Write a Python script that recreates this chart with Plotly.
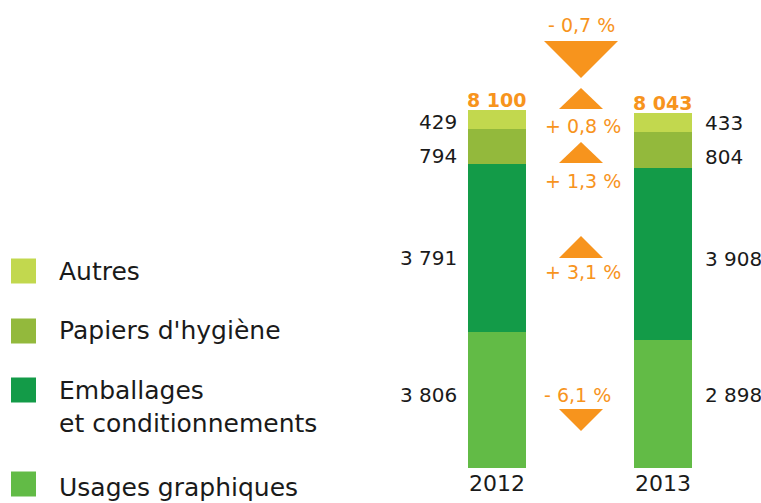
import plotly.graph_objects as go

# ---- data ----
years = ["2012", "2013"]
categories = ["Usages graphiques", "Emballages<br>et conditionnements", "Papiers d'hygiène", "Autres"]
# values in stacking order (bottom -> top)
usages = [3086, 2898]        # 2012 label in the source reads "3 806" (typo; total 8 100 and -6,1 % imply 3 086)
emballages = [3791, 3908]
papiers = [794, 804]
autres = [429, 433]
totals = [8100, 8043]
labels_2012 = ["3 806", "3 791", "794", "429"]
labels_2013 = ["2 898", "3 908", "804", "433"]
total_labels = ["8 100", "8 043"]
changes = ["- 6,1 %", "+ 3,1 %", "+ 1,3 %", "+ 0,8 %"]
total_change = "- 0,7 %"
colors = ["#62bb46", "#139b48", "#93b93c", "#c2d84e"]
ORANGE = "#f7941d"
FONT = "DejaVu Sans"
TXT = "#1a1a1a"

series = [usages, emballages, papiers, autres]

W, H = 761, 503
MB = 35
PH = H - MB
def px(x):
    return x / W
def py(y):
    return (PH - y) / PH

xpos = list(range(len(years)))
# small vertical nudges of the value labels (pixels), layout only
label_nudge = [[5, -10, -9, -2], [9, -5, -7, 0]]

fig = go.Figure()
for vals, name, col in zip(series, categories, colors):
    fig.add_trace(go.Bar(x=xpos, y=vals, name=name, marker=dict(color=col, line=dict(width=0)),
                         width=0.35, showlegend=False, hoverinfo="skip"))

ann = []
shapes = []
# segment value labels
for i in xpos:
    cum = 0
    labs = labels_2012 if i == 0 else labels_2013
    for k, vals in enumerate(series):
        mid = cum + vals[i] / 2
        cum += vals[i]
        if i == 0:
            ann.append(dict(x=i, y=mid, text=labs[k], xref="x", yref="y", showarrow=False,
                            xanchor="right", yanchor="middle", xshift=-38, yshift=label_nudge[i][k],
                            font=dict(size=20, color=TXT, family=FONT)))
        else:
            ann.append(dict(x=i, y=mid, text=labs[k], xref="x", yref="y", showarrow=False,
                            xanchor="left", yanchor="middle", xshift=40, yshift=label_nudge[i][k],
                            font=dict(size=20, color=TXT, family=FONT)))
    ann.append(dict(x=i, y=totals[i], text="<b>" + total_labels[i] + "</b>", xref="x", yref="y",
                    showarrow=False, xanchor="center", yanchor="bottom", yshift=-3,
                    font=dict(size=19, color=ORANGE, family=FONT)))

# change indicators (decorative)
def tri(x0, x1, ybase, yapex):
    xm = (x0 + x1) / 2
    return dict(type="path", xref="paper", yref="paper",
                path=f"M{px(x0)},{py(ybase)} L{px(x1)},{py(ybase)} L{px(xm)},{py(yapex)} Z",
                fillcolor=ORANGE, line=dict(width=0))

shapes.append(tri(544, 618, 41, 78))
shapes.append(tri(559, 603, 109, 88))
shapes.append(tri(559, 603, 163, 142))
shapes.append(tri(559, 603, 258, 236))
shapes.append(tri(559, 603, 409, 431))

chg_pos = [(577, 395), (583, 272), (583, 181), (583, 126)]
for t, (x, y) in zip(changes, chg_pos):
    ann.append(dict(x=px(x), y=py(y), xref="paper", yref="paper", text=t, showarrow=False,
                    xanchor="center", yanchor="middle",
                    font=dict(size=19, color=ORANGE, family=FONT)))
ann.append(dict(x=px(581), y=py(25), xref="paper", yref="paper", text=total_change, showarrow=False,
                xanchor="center", yanchor="middle",
                font=dict(size=19, color=ORANGE, family=FONT)))

# manual legend
leg_y = [487, 407, 331, 271]
sq_y = [484, 390, 331, 271]
for name, col, ly, sy in zip(categories, colors, leg_y, sq_y):
    shapes.append(dict(type="rect", xref="paper", yref="paper", x0=px(11), x1=px(36),
                       y0=py(sy + 12.5), y1=py(sy - 12.5), fillcolor=col, line=dict(width=0)))
    ann.append(dict(x=px(57), y=py(ly), xref="paper", yref="paper", text=name, showarrow=False,
                    xanchor="left", yanchor="middle", align="left",
                    font=dict(size=25, color=TXT, family=FONT)))

unit = totals[1] / (468 - 113)
fig.update_layout(
    barmode="stack",
    width=W, height=H,
    margin=dict(l=0, r=0, t=0, b=MB),
    paper_bgcolor="white", plot_bgcolor="white",
    annotations=ann, shapes=shapes,
    xaxis=dict(range=[-497 / 166, -497 / 166 + W / 166], showgrid=False, zeroline=False, showline=False,
               tickmode="array", tickvals=xpos, ticktext=years,
               tickfont=dict(size=22, color=TXT, family=FONT), ticks="", fixedrange=True),
    yaxis=dict(range=[0, PH * unit], visible=False, fixedrange=True),
)
fig.write_html("out.html", config={"displayModeBar": False},
               post_script="document.body.style.margin='0';document.body.style.overflow='hidden';")
